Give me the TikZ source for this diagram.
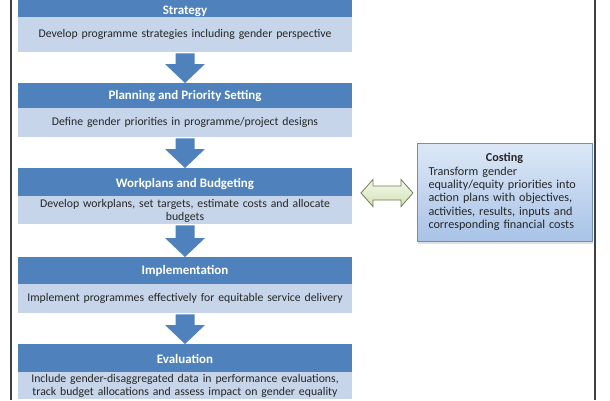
\documentclass[tikz,border=0pt]{standalone}
\usepackage{fontspec}
\setmainfont{Carlito}
\usetikzlibrary{calc,shadows}
\definecolor{hdr}{HTML}{4F81BD}
\definecolor{lite}{HTML}{C7D5EA}
\definecolor{txt}{HTML}{262626}
\definecolor{frm}{HTML}{404040}
\definecolor{costtop}{HTML}{DDE8F6}
\definecolor{costbot}{HTML}{A8C3E7}
\definecolor{costdraw}{HTML}{6C8EC4}
\definecolor{grtop}{HTML}{F4F8EC}
\definecolor{grbot}{HTML}{D3E1B6}
\definecolor{grdraw}{HTML}{6F7E55}
\newcommand\flowarrow[2]{%
  \fill[hdr] ($(#1.south)+(-9.5,-1)$) -- ($(#2.north)+(-9.5,19)$) -- ($(#2.north)+(-20,19)$) -- (#2.north)
    -- ($(#2.north)+(20,19)$) -- ($(#2.north)+(9.5,19)$) -- ($(#1.south)+(9.5,-1)$) -- cycle;}
\begin{document}
\begin{tikzpicture}[x=1bp,y=1bp,
  hdrbox/.style={fill=hdr, text=white, font=\fontsize{13}{15}\selectfont\bfseries,
    minimum width=334bp, inner sep=0pt, anchor=north},
  descbox/.style={fill=lite, text=txt, font=\fontsize{11.8}{13.3}\selectfont,
    text width=330bp, align=center, minimum width=334bp, inner sep=0pt, anchor=north},
  costbox/.style={rectangle, top color=costtop, bottom color=costbot, draw=costdraw, line width=0.6bp,
    minimum width=175bp, minimum height=98bp, inner sep=0pt, text width=152bp, align=left,
    text=txt, font=\fontsize{12.2}{13.5}\selectfont,
    drop shadow={shadow xshift=1bp, shadow yshift=-3bp, opacity=0.25}},
  dblarrow/.style={top color=grtop, bottom color=grbot, draw=grdraw, line width=0.8bp, line join=miter},
  framestyle/.style={draw=frm, line width=1.2bp}
]
\useasboundingbox (0,0) rectangle (610,-400);
\clip (0,0) rectangle (610,-400);
\fill[white] (0,0) rectangle (610,-400);

\node[hdrbox, minimum height=17bp] (h1) at (185,0) {\raisebox{-5.5bp}[0pt][0pt]{Strategy}};
\node[descbox, minimum height=35bp] (d1) at (185,-17) {Develop programme strategies including gender perspective};
\node[hdrbox, minimum height=25bp] (h2) at (185,-83) {Planning and Priority Setting};
\node[descbox, minimum height=29bp] (d2) at (185,-108) {Define gender priorities in programme/project designs};
\node[hdrbox, minimum height=28bp] (h3) at (185,-168) {\raisebox{-5bp}[0pt][0pt]{Workplans and Budgeting}};
\node[descbox, minimum height=28bp] (d3) at (185,-196) {\raisebox{-3.5bp}[0pt][0pt]{\parbox{330bp}{\centering Develop workplans, set targets, estimate costs and allocate\\budgets}}};
\node[hdrbox, minimum height=27bp] (h4) at (185,-257) {Implementation};
\node[descbox, minimum height=29bp] (d4) at (185,-284) {Implement programmes effectively for equitable service delivery};
\node[hdrbox, minimum height=28bp] (h5) at (185,-344) {\raisebox{-5bp}[0pt][0pt]{Evaluation}};
\node[descbox, minimum height=27bp] (d5) at (185,-372) {Include gender-disaggregated data in performance evaluations,\\track budget allocations and assess impact on gender equality};

\flowarrow{d1}{h2}
\flowarrow{d2}{h3}
\flowarrow{d3}{h4}
\flowarrow{d4}{h5}

\node[costbox] (cost) at (504.5,-192) {\makebox[\linewidth]{\bfseries Costing}\\Transform gender\\equality/equity priorities into\\action plans with objectives,\\activities, results, inputs and\\corresponding financial costs};

\coordinate (al) at (361,-193);
\coordinate (ar) at (413,-193);
\draw[dblarrow] (al) -- ($(al)+(12,13.5)$) -- ($(al)+(12,7)$) -- ($(ar)+(-12,7)$) -- ($(ar)+(-12,13.5)$) -- (ar)
  -- ($(ar)+(-12,-13.5)$) -- ($(ar)+(-12,-7)$) -- ($(al)+(12,-7)$) -- ($(al)+(12,-13.5)$) -- cycle;

\draw[framestyle] (11,0) -- (11,-400);
\draw[framestyle] (595,0) -- (595,-400);
\end{tikzpicture}
\end{document}
